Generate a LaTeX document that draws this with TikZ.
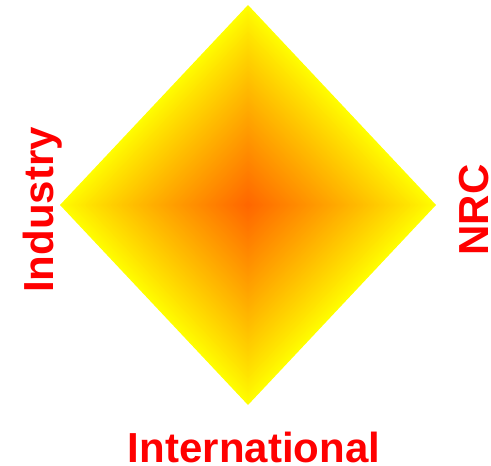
\documentclass[tikz,border=0pt]{standalone}
\usepackage{fontspec}
\setmainfont{Liberation Sans}
\definecolor{corange}{RGB}{255,102,0}
\definecolor{cyellow}{RGB}{255,255,0}
\definecolor{cred}{RGB}{255,0,0}
\begin{document}
\begin{tikzpicture}[x=1pt,y=-1pt,
  lab/.style={text=cred,font=\bfseries\fontsize{42}{42}\selectfont,inner sep=0pt}]
\useasboundingbox (0,0) rectangle (491,466);
\coordinate (c) at (248,205);
\foreach \i in {0,...,119}{
  \pgfmathsetmacro\s{1-\i/120}
  \pgfmathsetmacro\p{100*(\i/120)^0.9}
  \fill[corange!\p!cyellow,shift={(c)},scale=\s] (0,-200) -- (188,0) -- (0,200) -- (-188,0) -- cycle;
}
\node[lab,anchor=base] (intl) at (254,462) {International};
\node[lab,rotate=90,anchor=base] (ind) at (53,210) {Industry};
\node[lab,rotate=90,anchor=base] (nrc) at (488,210) {NRC};
\end{tikzpicture}
\end{document}
